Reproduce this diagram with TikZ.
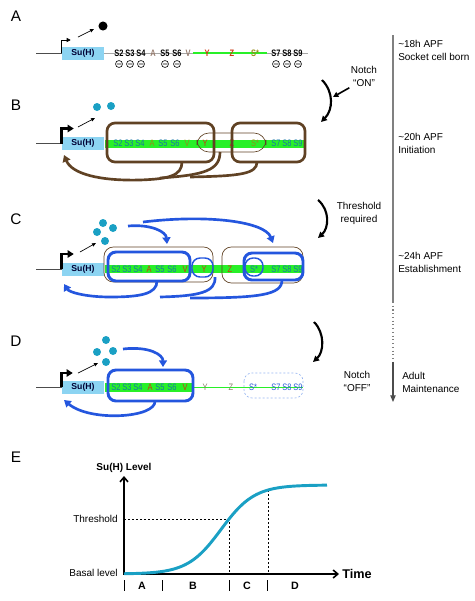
\documentclass[tikz,border=0pt]{standalone}
\usepackage{fontspec}
\setmainfont{Liberation Sans}
\newfontfamily\sitefont[FakeStretch=0.8]{Liberation Sans}
\usetikzlibrary{arrows.meta, positioning, calc}

\definecolor{suhblue}{RGB}{140,212,242}
\definecolor{dnagreen}{RGB}{40,240,40}
\definecolor{loopbrown}{RGB}{96,66,36}
\definecolor{loopblue}{RGB}{36,86,222}
\definecolor{dotteal}{RGB}{26,160,196}
\definecolor{sitecyan}{RGB}{22,118,168}
\definecolor{siteolive}{RGB}{150,140,24}
\definecolor{sitered}{RGB}{204,56,16}
\definecolor{sitegray}{RGB}{150,124,110}
\definecolor{siteash}{RGB}{135,128,105}
\definecolor{siteblue}{RGB}{40,92,212}
\definecolor{ghostblue}{RGB}{150,180,240}

\tikzset{
  panel/.style={font=\fontsize{11.5}{11.5}\selectfont, inner sep=0pt},
  suhbox/.style={fill=suhblue, minimum width=31.5pt, minimum height=9.75pt, inner sep=0pt,
    font=\fontsize{6.5}{6.5}\selectfont\bfseries, text=black!80!blue},
  site/.style={font=\sitefont\fontsize{7}{7}\selectfont, inner sep=0pt},
  stage/.style={font=\fontsize{7.5}{9.75}\selectfont, align=left, anchor=west, inner sep=0pt},
  cue/.style={font=\fontsize{7.5}{9.75}\selectfont, align=center, inner sep=0pt},
  tf/.style={circle, fill=dotteal, minimum size=6pt, inner sep=0pt},
  promoter/.style={line width=2pt, line join=miter, -{Triangle[length=4.5pt, width=5.5pt]}},
  pointer/.style={line width=0.5pt, -{Triangle[length=3pt, width=2.5pt]}},
  brownloop/.style={draw=loopbrown, line width=2pt, rounded corners=6pt},
  thinloop/.style={draw=loopbrown, line width=0.5pt, rounded corners=7pt},
  blueloop/.style={draw=loopblue, line width=2.2pt, rounded corners=6pt},
  bluering/.style={draw=loopblue, line width=1.1pt, rounded corners=6pt},
  feedback/.style={line width=2pt, -{Triangle[length=5pt, width=6pt]}},
  timearrow/.style={line width=1.6pt, -{Triangle[length=4.5pt, width=4.5pt]}},
  axis/.style={line width=1.2pt, -{Straight Barb[length=3.5pt, width=6pt]}},
  guide/.style={line width=0.4pt, dash pattern=on 1.5pt off 1.5pt},
}

% site labels along one enhancer: name/x/colour
\newcommand{\drawsites}[4][]{%
  \foreach \lbl/\xx/\col [count=\i] in {#4}
    \node[site, #1, text=\col] (#2-site\i) at (\xx,#3) {\lbl};%
}

\begin{document}
\begin{tikzpicture}[x=0.75pt, y=-0.75pt, font=\fontsize{7.5}{9.75}\selectfont]
  \def\yA{53}
  \def\yB{143.5}
  \def\yC{269}
  \def\yD{387}
  \useasboundingbox (0,0) rectangle (475,601);

  % panel letters
  \node[panel] (lblA) at (16,16.5) {A};
  \node[panel] (lblB) at (16,105) {B};
  \node[panel] (lblC) at (16,219.5) {C};
  \node[panel] (lblD) at (16,341) {D};
  \node[panel] (lblE) at (16,457.5) {E};

  % ---------- A ----------
  \node[suhbox] (suhA) at (83,\yA) {Su(H)};
  \draw[line width=0.5pt, black!70] (36,\yA) -- (suhA.west);
  \draw[line width=0.5pt, gray!70] (suhA.east) -- (193,\yA);
  \draw[line width=1pt, dnagreen] (193,\yA) -- (267,\yA);
  \draw[line width=0.5pt, gray!70] (267,\yA) -- (308,\yA);
  \drawsites[font=\sitefont\fontsize{7}{7}\selectfont\bfseries]{A}{\yA}{S2/119/black, S3/130/black, S4/141/black,
    A/153/sitegray, S5/165/black, S6/177/black, V/188/sitegray, Y/207/sitered, Z/232/sitered,
    S*/255/siteolive, S7/276/black, S8/287/black, S9/298/black}
  \foreach \xx in {119,130,141,165,177,276,287,298}
    \draw[line width=0.45pt] (\xx,64) circle[radius=2.6pt] ++(-1.5pt,0pt) -- ++(3pt,0pt);
  \draw[line width=0.5pt, -{Triangle[length=3pt, width=3pt]}] (suhA.west) -- ++(0,-13) -- ++(9,0);
  \node[circle, fill=black, minimum size=6.8pt, inner sep=0pt] (suhProtA) at (103,26) {};
  \draw[pointer] (78,37) -- (94,29);

  % ---------- B ----------
  \node[suhbox] (suhB) at (83,\yB) {Su(H)};
  \draw[line width=0.5pt, black!70] (36,\yB) -- (suhB.west);
  \fill[dnagreen] (105,139.5) rectangle (304,147.5);
  \drawsites{B}{\yB}{S2/118/sitecyan, S3/129/sitecyan, S4/140/sitecyan,
    A/152/siteolive, S5/163/sitecyan, S6/175/sitecyan, V/187/siteolive, Y/205/sitered, Z/232/sitered,
    S*/255/siteolive, S7/276/sitecyan, S8/287/sitecyan, S9/298/sitecyan}
  \draw[thinloop, rounded corners=9pt] (197,133) rectangle (266,152);
  \draw[brownloop] (107,123) rectangle (214,162);
  \draw[brownloop] (232,123) rectangle (305,162);
  \draw[promoter] (suhB.west) -- ++(0,-15) -- ++(12,0);
  \node[tf] (tfB1) at (97,107) {};
  \node[tf] (tfB2) at (111,106) {};
  \draw[pointer] (78,127) -- (95,118);
  \draw[feedback, loopbrown] (182,162) .. controls (182,176) and (168,179) .. (140,180)
    .. controls (100,181) and (72,174) .. (64,155);
  \draw[loopbrown, line width=2pt] (220,152) .. controls (220,170) and (205,175) .. (160,178);
  \draw[loopbrown, line width=2pt] (257,162) .. controls (257,174) and (240,176) .. (190,177);

  % ---------- C ----------
  \node[suhbox] (suhC) at (83,\yC) {Su(H)};
  \draw[line width=0.5pt, black!70] (36,\yC) -- (suhC.west);
  \fill[dnagreen] (105,265) rectangle (304,273);
  \drawsites{C}{\yC}{S2/116/sitecyan, S3/127/sitecyan, S4/138/sitecyan,
    A/149/sitered, S5/160/sitecyan, S6/172/sitecyan, V/185/sitered, Y/204/sitered, Z/230/sitered,
    S*/254/sitecyan, S7/276/sitecyan, S8/287/sitecyan, S9/298/sitecyan}
  \draw[thinloop] (104,247) rectangle (213,282);
  \draw[thinloop] (222,247) rectangle (303,283);
  \draw[blueloop] (108,252) rectangle (190,281);
  \draw[bluering] (192,258) rectangle (213,277);
  \draw[bluering] (245,258) rectangle (263,276);
  \draw[blueloop] (244,253) rectangle (303,280);
  \draw[promoter] (suhC.west) -- ++(0,-15) -- ++(12,0);
  \node[tf] (tfC1) at (103,223) {};
  \node[tf] (tfC2) at (113,228) {};
  \node[tf] (tfC3) at (97,232) {};
  \node[tf] (tfC4) at (105,241) {};
  \draw[pointer] (80,252) -- (96,243);
  \draw[feedback, loopblue] (128,226) .. controls (152,224) and (166,232) .. (167,244);
  \draw[feedback, loopblue] (143,222) .. controls (210,214) and (265,222) .. (273,243);
  \draw[feedback, loopblue] (157,281) .. controls (157,294) and (140,297) .. (110,297)
    .. controls (85,297) and (69,292) .. (64,284);
  \draw[loopblue, line width=2pt] (215,277) .. controls (216,292) and (200,296) .. (160,297);
  \draw[loopblue, line width=2pt] (282,280) .. controls (282,295) and (260,298) .. (190,298);

  % ---------- D ----------
  \node[suhbox] (suhD) at (83,\yD) {Su(H)};
  \draw[line width=0.5pt, black!70] (36,\yD) -- (suhD.west);
  \fill[dnagreen] (105,383) rectangle (193,392);
  \draw[line width=0.7pt, dnagreen] (193,\yD) -- (303,\yD);
  \drawsites{D}{\yD}{S2/116/sitecyan, S3/127/sitecyan, S4/138/sitecyan,
    A/150/sitered, S5/160/sitecyan, S6/172/sitecyan, V/185/sitered, Y/205/siteash, Z/231/siteash,
    S*/253/siteblue, S7/276/siteblue, S8/287/siteblue, S9/298/siteblue}
  \draw[blueloop] (108,370) rectangle (193,401);
  \draw[draw=ghostblue, line width=0.5pt, dash pattern=on 1.5pt off 1.5pt, rounded corners=6pt]
    (244,373) rectangle (303,398);
  \draw[promoter] (suhD.west) -- ++(0,-14) -- ++(11,0);
  \node[tf] (tfD1) at (106,340) {};
  \node[tf] (tfD2) at (97,352) {};
  \node[tf] (tfD3) at (113,351) {};
  \node[tf] (tfD4) at (106,362) {};
  \draw[pointer] (78,373) -- (98,363);
  \draw[feedback, loopblue] (123,349) .. controls (150,346) and (163,355) .. (163,367);
  \draw[feedback, loopblue] (155,401) .. controls (156,418) and (90,422) .. (64,400);

  % ---------- time line ----------
  \draw[gray, line width=0.8pt] (393,35) -- (393,302);
  \draw[gray, line width=0.8pt, dotted] (393,302) -- (393,362);
  \draw[gray!60!black, line width=0.8pt, -{Triangle[length=5pt, width=4pt]}] (393,362) -- (393,402);
  \node[stage] (stageA) at (398,50.5) {\textasciitilde18h APF\\Socket cell born};
  \node[stage] (stageB) at (398,143) {\textasciitilde20h APF\\Initiation};
  \node[stage] (stageC) at (398,262) {\textasciitilde24h APF\\Establishment};
  \node[stage] (stageD) at (402,382) {Adult\\Maintenance};

  \node[cue] (notchOn) at (364,76) {Notch\\“ON”};
  \node[cue] (thresh) at (359,213) {Threshold\\required};
  \node[cue] (notchOff) at (357,381) {Notch\\“OFF”};
  \coordinate (onTip) at (333,97);
  \draw[line width=1.2pt, -{Triangle[length=4pt, width=4pt]}] ([xshift=-1pt, yshift=-1pt]notchOn.south west) -- (onTip);
  \draw[timearrow] (322,80) .. controls (334,92) and (333,110) .. (321,122);
  \draw[timearrow] (318,200) .. controls (330,210) and (329,228) .. (318,238);
  \draw[timearrow] (314,322) .. controls (325,333) and (324,352) .. (313,362);

  % ---------- E ----------
  \coordinate (orig) at (124,574);
  \draw[axis] (orig) -- (124,476);
  \draw[axis] ([xshift=-0.6pt]orig) -- (339,574);
  \node[font=\fontsize{7.5}{7.5}\selectfont\bfseries] (levelLbl) at (124,468) {Su(H) Level};
  \node[font=\fontsize{9.5}{9.5}\selectfont\bfseries, anchor=west, inner sep=0pt] (timeLbl) at (342,574) {Time};
  \node[anchor=east, inner sep=0pt] (threshLbl) at (118,519) {Threshold};
  \node[anchor=east, inner sep=0pt] (basalLbl) at (118,573) {Basal level};
  \draw[guide] (124,519) -- (229,519) -- (229,574);
  \draw[guide] (268,490) -- (268,574);
  \draw[dotteal, line width=2.2pt] plot[domain=124:327, samples=90] (\x, {574-89/(1+exp(-(\x-221)/16.7))});
  \foreach \xx in {124,162,229,267}
    \draw[line width=0.6pt] (\xx,580) -- (\xx,591);
  \foreach \ph/\xx in {A/142, B/193, C/247, D/295}
    \node[font=\fontsize{8}{8}\selectfont\bfseries] (phase\ph) at (\xx,585.5) {\ph};
\end{tikzpicture}
\end{document}
